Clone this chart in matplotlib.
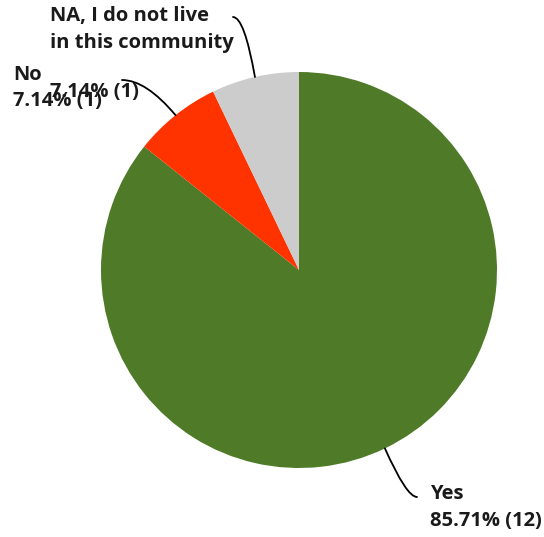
import matplotlib
matplotlib.use("Agg")
import matplotlib.pyplot as plt
import numpy as np

# Survey answers (clockwise from 12 o'clock)
answers = ["Yes", "No", "NA, I do not live\nin this community"]
counts = [12, 1, 1]
percents = ["85.71%", "7.14%", "7.14%"]
colors = ["#4f7a28", "#ff3300", "#cccccc"]

plt.rcParams["font.family"] = ["Open Sans", "DejaVu Sans"]

fig = plt.figure(figsize=(5.44, 5.37), dpi=100)
ax = fig.add_axes([0, 0, 1, 1])

cx, cy, r = 299, 270, 198
wedges, _ = ax.pie(counts, colors=colors, startangle=-90, counterclock=True,
                   center=(cx, cy), radius=r, frame=True,
                   wedgeprops=dict(linewidth=0))
ax.set_xlim(0, 544)
ax.set_ylim(537, 0)  # pixel-like coords, y downwards
ax.axis("off")


def edge_point(w):
    t = np.deg2rad((w.theta1 + w.theta2) / 2)
    return cx + r * np.cos(t), cy + r * np.sin(t)


txt = dict(fontsize=14.5, fontweight="bold", color="#1a1a1a")
line = dict(arrowstyle="-", color="black", lw=1.3, shrinkA=0, shrinkB=0)

# Yes
ax.annotate("", xy=edge_point(wedges[0]), xytext=(417, 497),
            arrowprops=dict(line, connectionstyle="angle3,angleA=0,angleB=114"))
ax.text(430, 484, f"{answers[0]}\n{percents[0]} ({counts[0]})",
        ha="left", va="top", linespacing=1.45, **txt)

# No
ax.annotate("", xy=edge_point(wedges[1]), xytext=(122, 80),
            arrowprops=dict(line, connectionstyle="angle3,angleA=0,angleB=-50"))
ax.text(13, 65, f"{answers[1]}\n{percents[1]} ({counts[1]})",
        ha="left", va="top", linespacing=1.4, **txt)

# NA
ax.annotate("", xy=edge_point(wedges[2]), xytext=(233, 17),
            arrowprops=dict(line, connectionstyle="angle3,angleA=0,angleB=-80"))
ax.text(50, 6, answers[2], ha="left", va="top", linespacing=1.45, **txt)
ax.text(50, 82, f"{percents[2]} ({counts[2]})", ha="left", va="top", **txt)

fig.savefig("out.png", dpi=100)
